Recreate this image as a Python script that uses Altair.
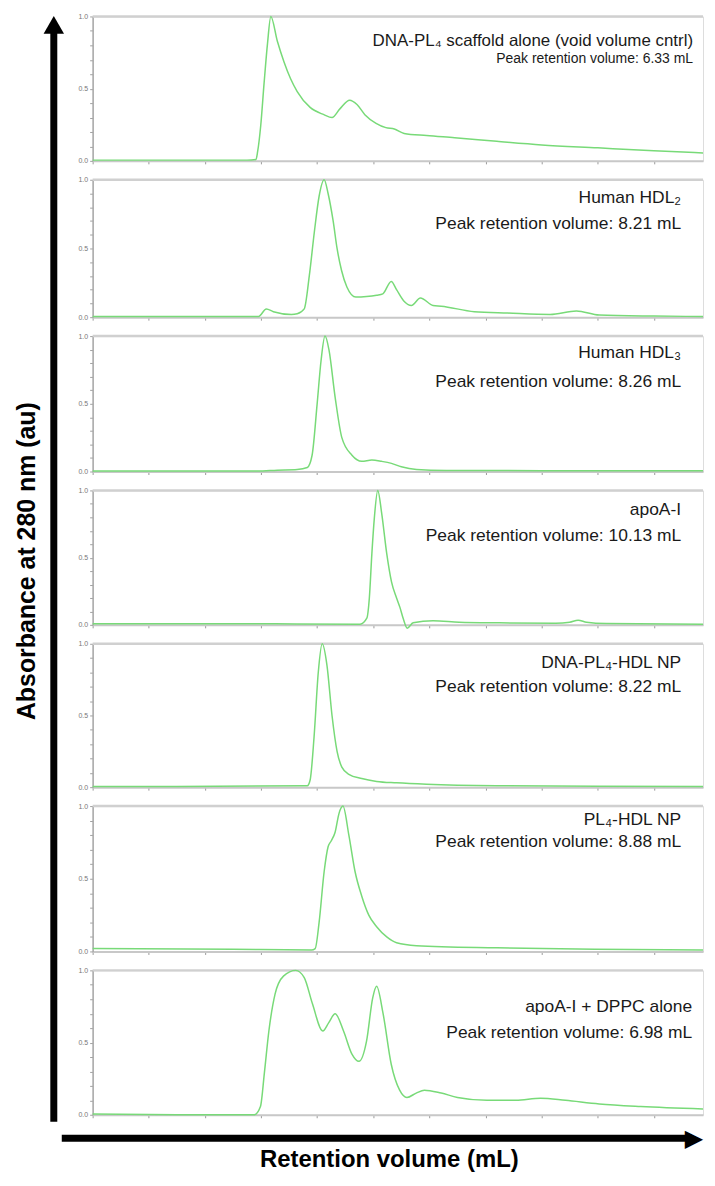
import altair as alt
import pandas as pd

# ---------------- data (retention volume in mL, normalised absorbance) ----------------
labels_line1 = [
    "DNA-PL\u2084 scaffold alone (void volume cntrl)",
    "Human HDL\u2082",
    "Human HDL\u2083",
    "apoA-I",
    "DNA-PL\u2084-HDL NP",
    "PL\u2084-HDL NP",
    "apoA-I + DPPC alone",
]
labels_line2 = [
    "Peak retention volume: 6.33 mL",
    "Peak retention volume: 8.21 mL",
    "Peak retention volume: 8.26 mL",
    "Peak retention volume: 10.13 mL",
    "Peak retention volume: 8.22 mL",
    "Peak retention volume: 8.88 mL",
    "Peak retention volume: 6.98 mL",
]

x1 = [0, 3, 5.5, 5.82, 5.88, 5.99, 6.11, 6.23, 6.35, 6.58, 6.82, 7.05, 7.29, 7.75, 8.24, 8.53,
      8.81, 9.16, 9.42, 9.7, 10.1, 10.45, 10.75, 11.1, 11.9, 12.9, 14.4, 16.0, 18.0, 20.0, 21.75]
y1 = [0.005, 0.005, 0.005, 0.01, 0.065, 0.245, 0.54, 0.81, 1.0, 0.83, 0.685, 0.57, 0.48, 0.37,
      0.32, 0.30, 0.36, 0.42, 0.39, 0.32, 0.26, 0.23, 0.22, 0.19, 0.175, 0.16, 0.135, 0.11, 0.09,
      0.07, 0.055]

x2 = [0, 3, 5.91, 6.19, 6.44, 7.08, 7.29, 7.54, 7.72, 7.9, 8.07, 8.25, 8.39, 8.57, 8.71, 8.87,
      9.06, 9.38, 9.76, 10.12, 10.34, 10.64, 10.83, 11.08, 11.36, 11.68, 12.13, 12.42, 13.6,
      14.8, 16.3, 17.24, 18.05, 20.0, 21.75]
y2 = [0.005, 0.005, 0.005, 0.06, 0.04, 0.02, 0.025, 0.06, 0.3, 0.62, 0.88, 1.0, 0.9, 0.70, 0.5,
      0.34, 0.22, 0.146, 0.15, 0.16, 0.17, 0.26, 0.2, 0.12, 0.085, 0.14, 0.085, 0.08, 0.04,
      0.03, 0.02, 0.045, 0.015, 0.008, 0.005]

x3 = [0, 3, 5.88, 6.58, 7.29, 7.65, 7.82, 8.0, 8.14, 8.28, 8.42, 8.64, 8.88, 9.24, 9.59, 9.95,
      10.3, 10.65, 11.0, 11.54, 12.6, 16.0, 21.75]
y3 = [0.003, 0.003, 0.003, 0.01, 0.015, 0.03, 0.12, 0.5, 0.82, 1.0, 0.9, 0.55, 0.25, 0.12,
      0.075, 0.085, 0.075, 0.06, 0.035, 0.015, 0.008, 0.006, 0.005]

x4 = [0, 3, 6, 9.53, 9.77, 9.86, 9.95, 10.04, 10.16, 10.3, 10.48, 10.65, 10.83, 10.95, 11.07,
      11.21, 11.42, 12.13, 13.06, 14.5, 16.5, 17.0, 17.3, 17.6, 18.3, 21.75]
y4 = [0.008, 0.008, 0.008, 0.005, 0.05, 0.2, 0.53, 0.8, 1.0, 0.83, 0.53, 0.32, 0.2, 0.13, 0.045,
      -0.025, 0.015, 0.03, 0.02, 0.015, 0.012, 0.02, 0.035, 0.02, 0.01, 0.005]

x5 = [0, 3, 7.65, 7.75, 7.89, 8.04, 8.18, 8.35, 8.53, 8.71, 8.88, 9.13, 9.59, 10.12, 10.83,
      11.9, 14.4, 18.0, 21.75]
y5 = [0.005, 0.005, 0.01, 0.05, 0.35, 0.8, 1.0, 0.85, 0.5, 0.25, 0.14, 0.09, 0.06, 0.04, 0.03,
      0.02, 0.01, 0.007, 0.005]

x6 = [0, 5, 7.8, 7.93, 8.07, 8.25, 8.39, 8.5, 8.64, 8.78, 8.92, 9.13, 9.35, 9.59, 9.84, 10.12,
      10.48, 10.83, 11.54, 14.4, 17.9, 21.75]
y6 = [0.02, 0.015, 0.01, 0.02, 0.2, 0.55, 0.72, 0.76, 0.82, 0.95, 1.0, 0.8, 0.55, 0.38, 0.25,
      0.17, 0.1, 0.06, 0.04, 0.025, 0.015, 0.01]

x7 = [0, 3, 5.76, 5.98, 6.12, 6.28, 6.5, 6.8, 7.24, 7.54, 7.83, 8.2, 8.42, 8.64, 8.94, 9.24,
      9.49, 9.76, 9.98, 10.12, 10.35, 10.64, 10.94, 11.2, 11.53, 11.82, 12.42, 13.0, 14.05,
      15.08, 15.96, 16.85, 18.05, 19.53, 21.75]
y7 = [0.005, 0.0, 0.0, 0.057, 0.29, 0.58, 0.835, 0.96, 1.0, 0.95, 0.77, 0.58, 0.64, 0.70, 0.58,
      0.42, 0.37, 0.51, 0.81, 0.89, 0.70, 0.35, 0.17, 0.12, 0.15, 0.17, 0.15, 0.12, 0.10, 0.10,
      0.115, 0.10, 0.075, 0.057, 0.04]

xs = [x1, x2, x3, x4, x5, x6, x7]
ys = [y1, y2, y3, y4, y5, y6, y7]

x_ticks = list(range(0, 22, 2))
y_ticks = [round(i * 0.1, 1) for i in range(11)]

# ---------------- layout / style ----------------
W = 613
X_MAX = 21.75
HEIGHTS = [145, 138, 136, 135, 144, 146, 145]
SPACING = 19
PAGE_X0 = 94
TOPS = [15]
for h in HEIGHTS[:-1]:
    TOPS.append(TOPS[-1] + h + SPACING)

TEXT_RIGHT = [697, 685, 685, 685, 685, 685, 696]
TEXT_Y1 = [40, 197, 353, 511, 664, 822, 1010]
TEXT_Y2 = [58, 223, 382, 537, 688, 844, 1036]
TEXT_SIZE1 = [17, 17.5, 17.5, 17.5, 17.5, 17.5, 17.5]
TEXT_SIZE2 = [14, 17.5, 17.5, 17.5, 17.5, 17.5, 17.5]

GREEN = "#78da78"
FONT = "Liberation Sans"
one = pd.DataFrame({"k": [0]})


def panel(i):
    df = pd.DataFrame({"vol": xs[i], "abs": ys[i]})
    h = HEIGHTS[i]
    top = TOPS[i]
    line = alt.Chart(df).mark_line(color=GREEN, strokeWidth=1.5, interpolate="monotone").encode(
        x=alt.X("vol:Q", scale=alt.Scale(domain=[0, X_MAX], nice=False, zero=False),
                axis=alt.Axis(values=x_ticks, labels=False, title=None, grid=False,
                              domainColor="#c8c8c8", domainWidth=2, tickColor="#999999",
                              tickSize=3, tickWidth=1)),
        y=alt.Y("abs:Q", scale=alt.Scale(domain=[0, 1], nice=False, zero=False),
                axis=alt.Axis(values=y_ticks, title=None, grid=False,
                              labelExpr="(datum.value == 0 || datum.value == 0.5 || datum.value == 1) ? format(datum.value, '.1f') : ''",
                              labelFontSize=7, labelColor="#777777", labelPadding=2,
                              domainColor="#a8a8a8", domainWidth=1.5, tickColor="#a0a0a0",
                              tickSize=3)),
    )
    frame = alt.Chart(one).mark_rule(color="#d0d0d0", strokeWidth=2.5).encode(
        x=alt.value(0), x2=alt.value(W), y=alt.value(0))
    t1 = alt.Chart(one).mark_text(align="right", baseline="middle", font=FONT,
                                  fontSize=TEXT_SIZE1[i], color="#1a1a1a").encode(
        x=alt.value(TEXT_RIGHT[i] - PAGE_X0), y=alt.value(TEXT_Y1[i] - top),
        text=alt.value(labels_line1[i]))
    t2 = alt.Chart(one).mark_text(align="right", baseline="middle", font=FONT,
                                  fontSize=TEXT_SIZE2[i], color="#1a1a1a").encode(
        x=alt.value(TEXT_RIGHT[i] - PAGE_X0), y=alt.value(TEXT_Y2[i] - top),
        text=alt.value(labels_line2[i]))
    layers = [frame, line, t1, t2]

    if i == 0:
        bar = alt.Chart(one).mark_rule(color="black", strokeWidth=7).encode(
            x=alt.value(55 - PAGE_X0), y=alt.value(28 - top), y2=alt.value(1125 - top))
        head = alt.Chart(one).mark_point(shape="triangle-up", filled=True, size=420,
                                         color="black", opacity=1, strokeWidth=0).encode(
            x=alt.value(55 - PAGE_X0), y=alt.value(23.5 - top))
        ytitle = alt.Chart(one).mark_text(angle=270, font=FONT, fontSize=25, fontWeight="bold",
                                          color="black", baseline="middle", align="center").encode(
            x=alt.value(28 - PAGE_X0), y=alt.value(562 - top),
            text=alt.value("Absorbance at 280 nm (au)"))
        layers += [bar, head, ytitle]
    if i == 6:
        hbar = alt.Chart(one).mark_rule(color="black", strokeWidth=7).encode(
            x=alt.value(63 - PAGE_X0), x2=alt.value(696 - PAGE_X0), y=alt.value(1141.5 - top))
        hhead = alt.Chart(one).mark_text(text="\u25B6", font="DejaVu Sans", fontSize=24,
                                         color="black", align="right", baseline="middle").encode(
            x=alt.value(707 - PAGE_X0), y=alt.value(1142 - top))
        xtitle = alt.Chart(one).mark_text(font=FONT, fontSize=24, fontWeight="bold",
                                          color="black", baseline="middle", align="center").encode(
            x=alt.value(392 - PAGE_X0), y=alt.value(1163 - top),
            text=alt.value("Retention volume (mL)"))
        layers += [hbar, hhead, xtitle]

    return alt.layer(*layers).properties(width=W, height=h)


chart = alt.vconcat(*[panel(i) for i in range(7)], spacing=SPACING, bounds="flush").properties(
    padding={"left": 6, "top": 1, "right": 0, "bottom": 0}
).configure_view(stroke=None).configure(background="white")

chart.save("out.html", embed_options={"renderer": "svg", "actions": False})
